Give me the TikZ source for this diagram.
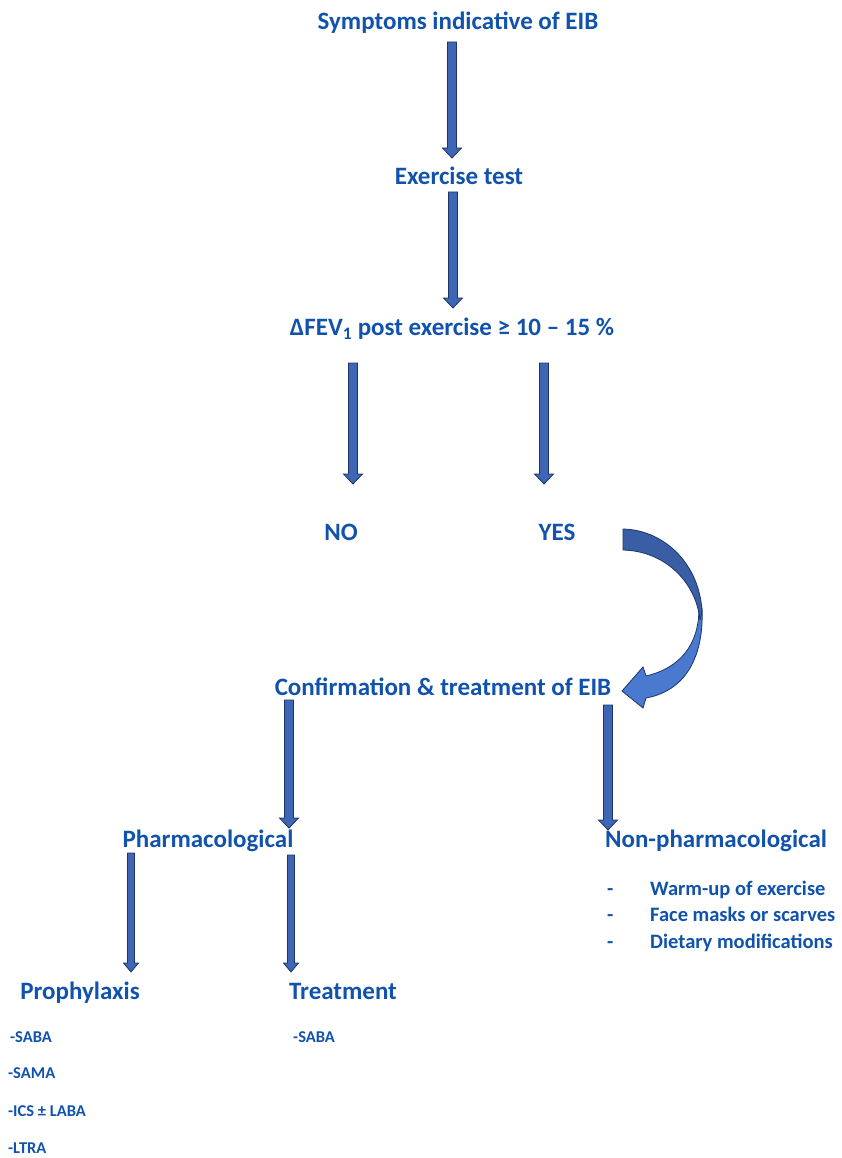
\documentclass[tikz,border=0pt]{standalone}
\usepackage{fontspec}
\setmainfont{Carlito}
\usetikzlibrary{calc}
\definecolor{txtblue}{RGB}{16,82,172}
\definecolor{arrfill}{RGB}{62,102,180}
\definecolor{arrdraw}{RGB}{30,52,105}
\definecolor{curvedark}{RGB}{58,94,166}
\definecolor{curvelight}{RGB}{74,122,208}
\tikzset{
  lbl/.style={text=txtblue,font=\bfseries\fontsize{25}{30}\selectfont,inner sep=0pt,text height=0.68em,text depth=0.2em,yshift=-5pt},
  item/.style={text=txtblue,font=\bfseries\fontsize{20.5}{24}\selectfont,inner sep=0pt,anchor=west,text height=0.68em,text depth=0.2em,yshift=-4pt},
  small/.style={text=txtblue,font=\bfseries\fontsize{16.5}{20}\selectfont,inner sep=0pt,anchor=west,text height=0.68em,text depth=0.2em,yshift=-3pt},
  barrow/.style={fill=arrfill,draw=arrdraw,line width=0.8pt,line join=miter,
    to path={let \p1=(\tikztostart), \p2=(\tikztotarget) in
      (\x1-4.5pt,\y1) -- (\x1+4.5pt,\y1) -- (\x1+4.5pt,\y2+10pt) -- (\x1+9.5pt,\y2+10pt)
      -- (\x1,\y2) -- (\x1-9.5pt,\y2+10pt) -- (\x1-4.5pt,\y2+10pt) -- cycle}},
  sarrow/.style={fill=arrfill,draw=arrdraw,line width=0.8pt,line join=miter,
    to path={let \p1=(\tikztostart), \p2=(\tikztotarget) in
      (\x1-3.5pt,\y1) -- (\x1+3.5pt,\y1) -- (\x1+3.5pt,\y2+9pt) -- (\x1+7.5pt,\y2+9pt)
      -- (\x1,\y2) -- (\x1-7.5pt,\y2+9pt) -- (\x1-3.5pt,\y2+9pt) -- cycle}},
}
\begin{document}
\begin{tikzpicture}[x=1pt,y=-1pt]
\useasboundingbox (0,0) rectangle (841,1158);

% labels
\node[lbl] (sym) at (458,22) {Symptoms indicative of EIB};
\node[lbl] (ex) at (459,177) {Exercise test};
\node[lbl] (fev) at (452,328) {ΔFEV\textsubscript{1} post exercise ≥ 10 – 15 \%};
\node[lbl] (no) at (341,533) {NO};
\node[lbl] (yes) at (557,533) {YES};
\node[lbl] (conf) at (443,688) {Confirmation \& treatment of EIB};
\node[lbl] (pharm) at (208,840) {Pharmacological};
\node[lbl] (nonph) at (716,840) {Non-pharmacological};
\node[lbl] (proph) at (80,992) {Prophylaxis};
\node[lbl] (treat) at (343,992) {Treatment};

% bullets
\node[item] (d1) at (607,889) {-};
\node[item] (b1) at (650,889) {Warm-up of exercise};
\node[item] (d2) at (607,915) {-};
\node[item] (b2) at (650,915) {Face masks or scarves};
\node[item] (d3) at (607,942) {-};
\node[item] (b3) at (650,942) {Dietary modifications};

% drug lists
\node[small] (p1) at (10,1037) {-SABA};
\node[small] (p2) at (8,1073) {-SAMA};
\node[small] (p3) at (8,1111) {-ICS ± LABA};
\node[small] (p4) at (8,1148) {-LTRA};
\node[small] (t1) at (293,1037) {-SABA};

% arrow end coordinates
\coordinate (a1s) at (452,42);  \coordinate (a1e) at (452,158);
\coordinate (a2s) at (453,192); \coordinate (a2e) at (453,308);
\coordinate (a3s) at (353,363); \coordinate (a3e) at (353,484);
\coordinate (a4s) at (544,363); \coordinate (a4e) at (544,484);
\coordinate (a5s) at (289,700); \coordinate (a5e) at (289,828);
\coordinate (a6s) at (608,705); \coordinate (a6e) at (608,830);
\coordinate (a7s) at (131,853); \coordinate (a7e) at (131,972);
\coordinate (a8s) at (291,855); \coordinate (a8e) at (291,972);

\draw[barrow] (a1s) to (a1e);
\draw[barrow] (a2s) to (a2e);
\draw[barrow] (a3s) to (a3e);
\draw[barrow] (a4s) to (a4e);
\draw[barrow] (a5s) to (a5e);
\draw[barrow] (a6s) to (a6e);
\draw[sarrow] (a7s) to (a7e);
\draw[sarrow] (a8s) to (a8e);

% curved arrow YES -> confirmation
\draw[fill=curvelight,draw=arrdraw,line width=0.8pt,line join=miter]
  (699,608) .. controls (699,645) and (680,668) .. (646,676)
  -- (643,667) -- (622,691) -- (643,708) -- (646,698)
  .. controls (690,690) and (704,650) .. (702,608) -- cycle;
\draw[fill=curvedark,draw=arrdraw,line width=0.8pt,line join=round]
  (623,529) .. controls (665,530) and (700,565) .. (702,612)
  -- (700,620)
  .. controls (696,582) and (665,551) .. (623,550) -- cycle;
\end{tikzpicture}
\end{document}
